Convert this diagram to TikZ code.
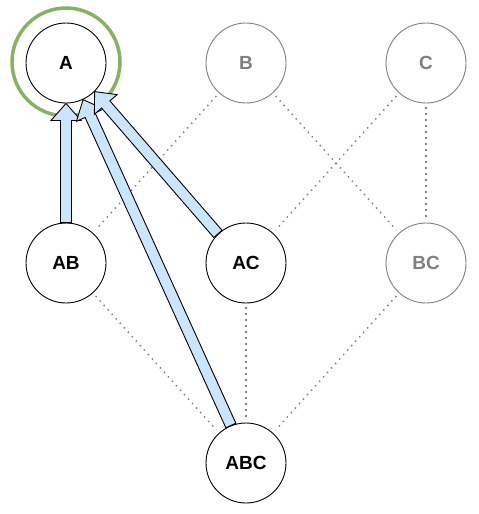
\documentclass[tikz,border=0pt]{standalone}
\usepackage{fontspec}
\setmainfont{Liberation Sans}
\usetikzlibrary{calc}
\definecolor{arrowfill}{HTML}{CCE5FF}
\definecolor{ringgreen}{HTML}{82B366}
\definecolor{dimgray}{HTML}{808080}
\tikzset{
  setnode/.style={circle, draw=black, line width=0.9pt, minimum size=80pt, inner sep=0pt, fill=white, font=\fontsize{19}{22}\selectfont\bfseries},
  dimnode/.style={setnode, draw=dimgray, text=dimgray},
  dotline/.style={draw=dimgray, line width=1.5pt, dash pattern=on 1.4pt off 4.6pt, shorten <=4pt, shorten >=4pt},
  blockarrow/.style={draw=black, fill=arrowfill, line width=0.9pt, line join=miter},
}
\newcommand{\blockarrow}[2]{%
  \coordinate (bS) at (#1);
  \coordinate (bT) at (#2);
  \coordinate (bH) at ($(bT)!17pt!(bS)$);
  \draw[blockarrow] ($(bS)!5.5pt!90:(bT)$) -- ($(bH)!5.5pt!-90:(bS)$) -- ($(bH)!15pt!-90:(bS)$) -- (bT)
    -- ($(bH)!15pt!90:(bS)$) -- ($(bH)!5.5pt!90:(bS)$) -- ($(bS)!5.5pt!-90:(bT)$) -- cycle;
}
\begin{document}
\begin{tikzpicture}[x=1pt,y=-1pt]
\useasboundingbox (0,0) rectangle (479,514);
\coordinate (cA) at (66,63);
\coordinate (cB) at (246,63);
\coordinate (cC) at (426,63);
\coordinate (cAB) at (66,263);
\coordinate (cAC) at (246,263);
\coordinate (cBC) at (426,263);
\coordinate (cABC) at (246,463);
\node[dimnode] (B) at (cB) {B};
\node[dimnode] (C) at (cC) {C};
\node[setnode] (AB) at (cAB) {AB};
\node[setnode] (AC) at (cAC) {AC};
\node[dimnode] (BC) at (cBC) {BC};
\node[setnode] (ABC) at (cABC) {ABC};
\draw[dotline] (B) -- (AB);
\draw[dotline] (B) -- (BC);
\draw[dotline] (C) -- (AC);
\draw[dotline] (C) -- (BC);
\draw[dotline] (AB) -- (ABC);
\draw[dotline] (AC) -- (ABC);
\draw[dotline] (BC) -- (ABC);
\node[draw=ringgreen, line width=3.5pt, circle, minimum size=108pt, inner sep=0pt] (ring) at (66,62) {};
\node[setnode] (A) at (cA) {A};
\blockarrow{AB.90}{A.-90}
\blockarrow{ABC.112}{A.-65}
\blockarrow{AC.134}{A.-45}
\end{tikzpicture}
\end{document}
